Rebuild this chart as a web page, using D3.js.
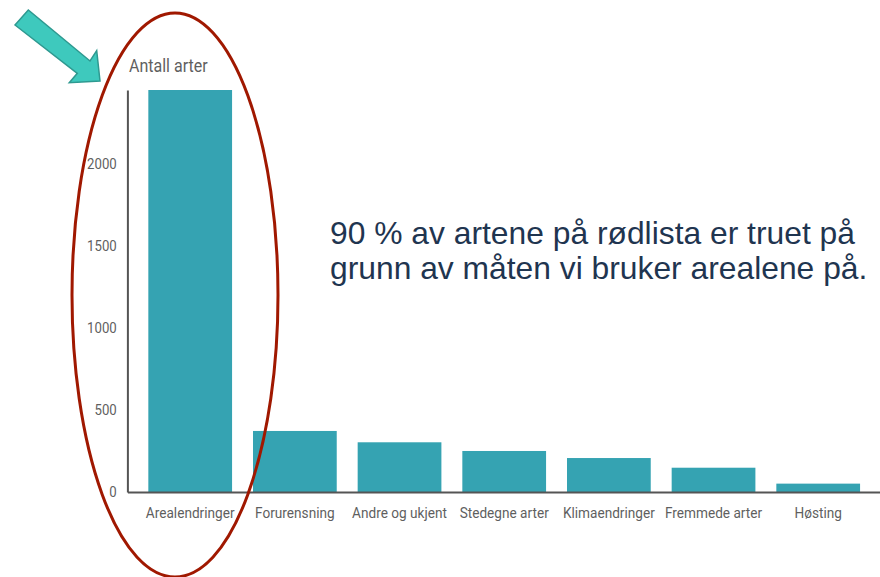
<!DOCTYPE html>
<html>
<head>
<meta charset="utf-8">
<script src="https://cdn.jsdelivr.net/npm/d3@7"></script>
<style>
  html, body { margin: 0; padding: 0; background: #fff; }
  svg { display: block; }
</style>
</head>
<body>
<svg id="chart" width="880" height="577"></svg>
<script>
const categories = ["Arealendringer", "Forurensning", "Andre og ukjent", "Stedegne arter", "Klimaendringer", "Fremmede arter", "Høsting"];
const values = [2450, 372, 303, 250, 207, 148, 51];
const yTicks = [0, 500, 1000, 1500, 2000];
const yTitle = "Antall arter";
const noteLines = ["90 % av artene på rødlista er truet på", "grunn av måten vi bruker arealene på."];

const svg = d3.select("#chart");
const x0 = 127.4, x1 = 881, yBase = 492, yTop = 90;
const sx = 0.88; // condensed look

const x = d3.scaleBand().domain(categories).range([x0, x1]).paddingInner(0.2).paddingOuter(0.2);
const y = d3.scaleLinear().domain([0, d3.max(values)]).range([yBase, yTop]);

// bars
svg.append("g").selectAll("rect").data(categories).join("rect")
  .attr("x", d => x(d))
  .attr("width", x.bandwidth())
  .attr("y", (d, i) => y(values[i]))
  .attr("height", (d, i) => yBase - y(values[i]))
  .attr("fill", "#35a3b2");

const labelFont = "Roboto, sans-serif";

// y axis
const yAxis = svg.append("g").attr("transform", `translate(${x0},0)`)
  .call(d3.axisLeft(y).tickValues(yTicks).tickSize(0).tickPadding(10).tickFormat(d3.format("d")));
yAxis.select(".domain").attr("stroke", "#555").attr("stroke-width", 2);
yAxis.selectAll("text").attr("fill", "#5f5f5f").style("font-family", labelFont).style("font-size", "15px")
  .attr("x", -10.7 / sx).attr("transform", `scale(${sx},1)`);

// x axis
const xAxis = svg.append("g").attr("transform", `translate(0,${yBase})`)
  .call(d3.axisBottom(x).tickSize(0));
xAxis.select(".domain").attr("stroke", "#555").attr("stroke-width", 2);
xAxis.selectAll("text").attr("fill", "#5f5f5f").style("font-family", labelFont).style("font-size", "15.5px")
  .attr("y", 26).attr("dy", 0).attr("transform", `scale(${sx},1)`);

// y title
svg.append("text").attr("transform", `translate(129,71.5) scale(0.89,1)`).text(yTitle)
  .attr("fill", "#5f5f5f").style("font-family", labelFont).style("font-size", "18px");

// annotation text
const note = svg.append("text").attr("fill", "#1f3550")
  .style("font-family", "Liberation Sans, Arial, sans-serif").style("font-size", "31.8px");
noteLines.forEach((t, i) => note.append("tspan").attr("x", 330).attr("y", 244 + i * 35).text(t));

// red ellipse
svg.append("ellipse").attr("cx", 175).attr("cy", 295).attr("rx", 103).attr("ry", 282)
  .attr("fill", "none").attr("stroke", "#a01800").attr("stroke-width", 3);

// teal arrow
svg.append("path")
  .attr("d", "M15,25 L28.3,10 L90,61 L96.7,50.7 L100,81 L69.3,82.7 L77.3,73.3 Z")
  .attr("fill", "#3ec9bd").attr("stroke", "#2e9990").attr("stroke-width", 1.5).attr("stroke-linejoin", "miter");
</script>
</body>
</html>
